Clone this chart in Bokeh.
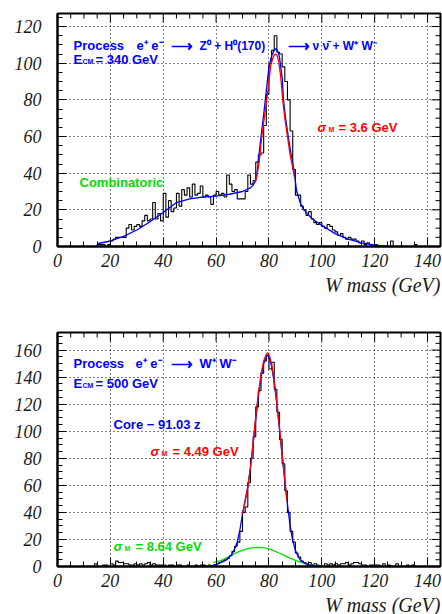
from bokeh.plotting import figure
from bokeh.models import Range1d, Label, Title, SingleIntervalTicker
from bokeh.layouts import column
from bokeh.embed import file_html
from bokeh.resources import INLINE

# ---------------- data ----------------
top_start = 15
top_counts = [1, 1, 1, 0, 1, 3, 4, 5, 5, 5,
              5, 10, 12, 9, 11, 12, 11, 14, 17, 14,
              15, 24, 15, 18, 14, 29, 16, 25, 19, 21,
              29, 22, 31, 28, 32, 27, 34, 28, 29, 33,
              27, 28, 27, 23, 28, 30, 28, 29, 27, 39,
              34, 30, 31, 26, 26, 26, 30, 39, 34, 36,
              46, 50, 51, 66, 83, 100, 107, 115, 106, 105,
              98, 90, 80, 63, 42, 28, 28, 22, 20, 17,
              19, 15, 13, 12, 13, 11, 10, 12, 11, 9,
              8, 6, 7, 5, 4, 5, 4, 4, 3, 2,
              3, 1, 2, 1, 1, 1, 0, 0, 0, 0,
              0, 3, 0, 0, 0, 0, 0, 0, 0, 0, 1]

top_blue_x = [15, 20, 25, 30, 35, 40, 45, 50, 55, 60, 65, 70, 73, 74, 75, 75.5, 76, 77, 78, 79,
              80, 81, 82, 82.7, 83.5, 84, 85, 85.5, 86.3, 87.3, 88.3, 89.3, 90.5, 91.8, 93, 95, 97,
              100, 105, 110, 115, 120, 125]
top_blue_y = [1.5, 3, 5.5, 9, 13.5, 18.5, 24, 26, 27, 27.5, 28.5, 30, 32, 33.5, 36, 40, 47, 60, 72, 85,
              98, 104, 107, 108, 106, 103, 92, 80, 70, 60, 51, 43, 30, 24, 20.5, 17, 14.5,
              11.5, 7, 4, 2, 0.8, 0.2]
top_red_x = [74.8, 75.5, 76.3, 77.3, 78.3, 79.2, 80, 80.7, 81.5, 82.3, 83, 83.7, 84.5, 85.2, 86, 87, 88, 89, 89.6]
top_red_y = [35, 39, 46, 60, 71, 80, 90, 99, 103, 105, 104.5, 101, 92, 80, 70, 60, 50, 43, 38]

bot_start = 14
bot_counts = [2, 0, 0, 1, 1, 0, 2, 1, 4, 3,
              3, 2, 2, 1, 1, 2, 1, 2, 1, 2,
              3, 1, 2, 1, 1, 1, 1, 0, 1, 1,
              0, 1, 1, 0, 0, 1, 0, 0, 1, 0,
              1, 1, 0, 1, 0, 1, 2, 3, 4, 5,
              6, 8, 11, 15, 18, 26, 40, 44, 62, 80,
              96, 118, 130, 143, 152, 156, 146, 151, 131, 114,
              94, 76, 56, 40, 26, 18, 10, 7, 4, 3,
              2, 3, 1, 2, 1, 0, 0, 2, 1, 2,
              1, 2, 1, 2, 2, 3, 1, 2, 3, 3,
              2, 1, 1, 0, 1, 1, 1, 1, 0, 2,
              0, 1, 0, 0, 2, 0, 0, 0, 1, 0,
              1, 0]

bot_blue_x = [58, 60, 62, 64, 66, 67, 68, 69, 70, 71, 72, 73, 74, 75, 76, 77, 78, 79, 79.5, 80,
              81, 82, 83, 84, 85, 86, 87, 88, 89, 90, 91, 92, 94, 97, 100]
bot_blue_y = [0.3, 1.5, 3, 5, 9, 13, 18, 27, 39, 49, 59, 73, 90, 109, 126, 140, 150, 155, 156.5, 155,
              148, 136, 120, 101, 82, 63, 46, 30, 19, 12, 7.5, 4.5, 1.8, 0.5, 0]
bot_red_x = [70, 71, 72, 73, 74, 75, 76, 77, 78, 79, 79.5, 80, 81, 82, 83, 84, 85, 86, 86.8]
bot_red_y = [39, 48, 59, 73, 91, 111, 128, 142, 152, 157, 158, 157, 150, 137, 121, 102, 83, 64, 49]
bot_green_x = [59, 62, 64, 66, 68, 70, 72, 74, 76, 78, 80, 82, 84, 86, 88, 90, 92, 94, 96, 98, 100]
bot_green_y = [3, 4.5, 6.5, 8.5, 10.5, 12, 13.2, 13.9, 14.1, 13.9, 13, 11.6, 9.8, 8, 6.2, 4.5, 3.2,
               2, 1.2, 0.6, 0.3]

x_label = "W mass (GeV)"

# ---------------- styling helpers ----------------
XMAX = 144.9
FRAME_W = 383
BLUE = "#0000ff"
RED = "#ff0000"
GREEN = "#00dd00"
SANS = "'Liberation Sans', Arial, sans-serif"
SERIF = "'Liberation Serif', 'Times New Roman', serif"
TXT = "13px"


def ticker():
    return SingleIntervalTicker(interval=20, num_minor_ticks=4)


def style_axis(ax):
    ax.ticker = ticker()
    ax.axis_line_color = "black"
    ax.axis_line_width = 2
    ax.major_tick_in = 9
    ax.major_tick_out = 0
    ax.minor_tick_in = 5
    ax.minor_tick_out = 0
    ax.major_tick_line_color = "black"
    ax.minor_tick_line_color = "black"
    ax.major_tick_line_width = 1
    ax.minor_tick_line_width = 1
    ax.major_label_text_font = SERIF
    ax.major_label_text_font_style = "italic"
    ax.major_label_text_font_size = "18px"
    ax.major_label_text_color = "#1a1a1a"


def make_fig(ymax, fh, btop, bbot):
    p = figure(frame_width=FRAME_W, frame_height=fh, output_backend="svg", toolbar_location=None,
               min_border_left=57, min_border_right=2, min_border_top=btop, min_border_bottom=bbot,
               x_range=Range1d(0, XMAX), y_range=Range1d(0, ymax))
    p.outline_line_color = "black"
    p.outline_line_width = 2
    style_axis(p.xaxis[0])
    style_axis(p.yaxis[0])
    p.xaxis[0].major_label_standoff = 7
    p.yaxis[0].major_label_standoff = 16
    for g in (p.xgrid[0], p.ygrid[0]):
        g.ticker = ticker()
        g.grid_line_color = "black"
        g.grid_line_dash = "1 3"
        g.grid_line_width = 1
    t = Title(text=x_label, align="right", text_font=SERIF, text_font_style="italic",
              text_font_size="20px", text_color="#1a1a1a", standoff=4)
    p.add_layout(t, "below")
    # inward ticks on the top and right frame edges (every 5, longer every 20)
    xppu = FRAME_W / XMAX
    yppu = fh / ymax
    xt = list(range(0, int(XMAX) + 1, 5))
    yt = list(range(0, int(ymax) + 1, 5))
    xl = [(9 if v % 20 == 0 else 5) / yppu for v in xt]
    yl = [(9 if v % 20 == 0 else 5) / xppu for v in yt]
    p.segment(x0=xt, y0=[ymax] * len(xt), x1=xt, y1=[ymax - l for l in xl],
              line_color="black", line_width=1)
    p.segment(x0=[XMAX] * len(yt), y0=yt, x1=[XMAX - l for l in yl], y1=yt,
              line_color="black", line_width=1)
    return p


def hist(p, start, counts):
    xs = [start] + [start + i for i in range(len(counts))] + [start + len(counts), start + len(counts)]
    ys = [0] + list(counts) + [counts[-1], 0]
    p.step(xs, ys, mode="after", line_color="black", line_width=1.1)


def lab(p, x, y, text, color, size=TXT, style="bold", font=SANS):
    p.add_layout(Label(x=x, y=y, text=text, text_color=color, text_font=font,
                       text_font_size=size, text_font_style=style, text_baseline="alphabetic"))


# reference pixel -> data helpers
def dx(px):
    return (px - 57.0) / (FRAME_W / XMAX)


def dyt(py):
    return (246.0 - py) / (233 / 127.1)


def dyb(py):
    return (566.0 - py) / (234 / 173.0)


# ---------------- top panel ----------------
p1 = make_fig(127.1, 233, 13, 64)
hist(p1, top_start, top_counts)
p1.line(top_blue_x, top_blue_y, line_color=BLUE, line_width=1.3)
p1.line(top_red_x, top_red_y, line_color=RED, line_width=1.3)

lab(p1, dx(73), dyt(45), "Process", BLUE)
lab(p1, dx(136), dyt(45), "e\u207a e\u207b", BLUE)
lab(p1, dx(170), dyt(45), "\u27f6", BLUE, size="15px")
lab(p1, dx(199), dyt(45), "Z\u2070 + H\u2070(170)", BLUE, size="12px")
lab(p1, dx(287), dyt(45), "\u27f6", BLUE, size="15px")
lab(p1, dx(312), dyt(45), "\u03bd \u03bd\u0304 + W\u207a W\u207b", BLUE, size="12px")
lab(p1, dx(73), dyt(59), "E", BLUE)
lab(p1, dx(82), dyt(61), "CM", BLUE, size="7px")
lab(p1, dx(95), dyt(59), "= 340 GeV", BLUE)
lab(p1, dx(317), dyt(127), "\u03c3", RED, style="bold italic")
lab(p1, dx(328), dyt(129), "M", RED, size="7px")
lab(p1, dx(338), dyt(127), "= 3.6 GeV", RED)
lab(p1, dx(79), dyt(182), "Combinatoric", GREEN)

# ---------------- bottom panel ----------------
p2 = make_fig(173.0, 234, 22, 48)
hist(p2, bot_start, bot_counts)
p2.line(bot_green_x, bot_green_y, line_color=GREEN, line_width=1.3)
p2.line(bot_blue_x, bot_blue_y, line_color=BLUE, line_width=1.3)
p2.line(bot_red_x, bot_red_y, line_color=RED, line_width=1.3)

lab(p2, dx(73), dyb(362.7), "Process", BLUE)
lab(p2, dx(135), dyb(362.7), "e\u207a e\u207b", BLUE)
lab(p2, dx(170), dyb(362.7), "\u27f6", BLUE, size="15px")
lab(p2, dx(199), dyb(362.7), "W\u207a W\u207b", BLUE)
lab(p2, dx(73), dyb(383), "E", BLUE)
lab(p2, dx(82), dyb(385), "CM", BLUE, size="7px")
lab(p2, dx(95), dyb(383), "= 500 GeV", BLUE)
lab(p2, dx(113), dyb(424), "Core \u2212 91.03 z", BLUE)
lab(p2, dx(150), dyb(450.5), "\u03c3", RED, style="bold italic")
lab(p2, dx(161), dyb(452.5), "M", RED, size="7px")
lab(p2, dx(172), dyb(450.5), "= 4.49 GeV", RED)
lab(p2, dx(113), dyb(546), "\u03c3", GREEN, style="bold italic")
lab(p2, dx(124), dyb(548), "M", GREEN, size="7px")
lab(p2, dx(135), dyb(546), "= 8.64 GeV", GREEN)

layout = column(p1, p2, spacing=0)
open("out.html", "w").write(file_html(layout, INLINE))
